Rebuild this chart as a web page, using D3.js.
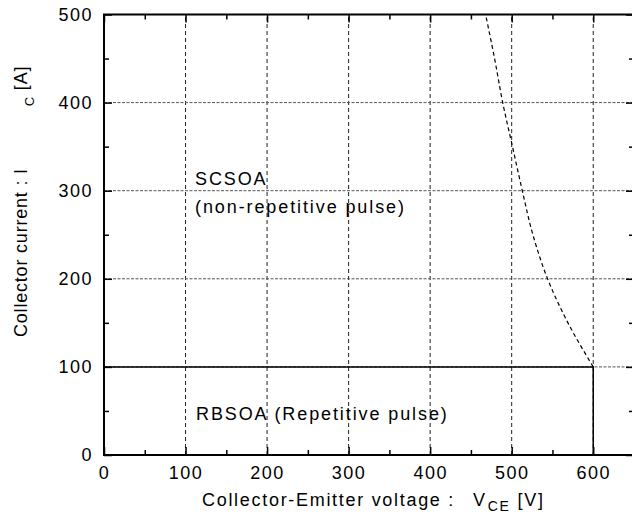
<!DOCTYPE html>
<html>
<head>
<meta charset="utf-8">
<script src="https://cdn.jsdelivr.net/npm/d3@7"></script>
<style>
  body { margin: 0; background: #fff; }
  svg { display: block; font-family: "Liberation Sans", Arial, sans-serif; }
  .tick text { font-size: 18px; letter-spacing: 1.5px; fill: #000; }
  .note { font-size: 18px; letter-spacing: 1.9px; }
  .title { font-size: 18px; letter-spacing: 1.7px; }
</style>
</head>
<body>
<div id="chart"></div>
<script>
// tick values
var xTicks = [0, 100, 200, 300, 400, 500, 600],
    xMinor = [50, 150, 250, 350, 450, 550, 650],
    yTicks = [0, 100, 200, 300, 400, 500],
    yMinor = [50, 150, 250, 350, 450];

// SCSOA boundary (dashed)
var scsoaI = [100, 150, 200, 250, 300, 350, 400, 450, 500],
    scsoaV = [600, 569, 544, 526, 513, 501, 489, 479, 468];

// RBSOA boundary (solid)
var rbsoaV = [0, 600, 600],
    rbsoaI = [100, 100, 0];

var width = 632, height = 523;

var x = d3.scaleLinear().domain([0, 650]).range([104, 634]),
    y = d3.scaleLinear().domain([0, 500]).range([455, 14.5]);

var svg = d3.select('#chart').append('svg')
    .attr('width', width)
    .attr('height', height);

// grid
svg.append('g').selectAll('line')
    .data(xTicks.slice(1))
  .enter().append('line')
    .attr('x1', function(d) { return x(d); })
    .attr('x2', function(d) { return x(d); })
    .attr('y1', y(0))
    .attr('y2', y(500))
    .attr('stroke', '#222')
    .attr('stroke-width', 1)
    .attr('stroke-dasharray', '4,3');

svg.append('g').selectAll('line')
    .data(yTicks.slice(1, -1))
  .enter().append('line')
    .attr('x1', x(0))
    .attr('x2', x(650))
    .attr('y1', function(d) { return y(d); })
    .attr('y2', function(d) { return y(d); })
    .attr('stroke', '#555')
    .attr('stroke-width', 1)
    .attr('stroke-dasharray', '3,1.5');

// RBSOA
var rb = rbsoaV.map(function(d, i) { return [d, rbsoaI[i]]; });
svg.append('path')
    .datum(rb)
    .attr('fill', 'none')
    .attr('stroke', '#000')
    .attr('stroke-width', 1.5)
    .attr('d', d3.line()
      .x(function(d) { return x(d[0]); })
      .y(function(d) { return y(d[1]); }));

// SCSOA
var sc = scsoaV.map(function(d, i) { return [d, scsoaI[i]]; });
svg.append('path')
    .datum(sc)
    .attr('fill', 'none')
    .attr('stroke', '#000')
    .attr('stroke-width', 1.2)
    .attr('stroke-dasharray', '4,3')
    .attr('d', d3.line()
      .curve(d3.curveMonotoneY)
      .x(function(d) { return x(d[0]); })
      .y(function(d) { return y(d[1]); }));

// axes, ticks pointing inward
function axis(gen, vals, size, fmt, tr) {
  var g = svg.append('g')
      .attr('transform', tr)
      .call(gen.tickValues(vals).tickSize(size).tickPadding(size < -6 ? 11 : 0).tickFormat(fmt));
  g.select('.domain').remove();
  g.selectAll('.tick line').attr('stroke', '#000').attr('stroke-width', 1.5);
  return g;
}
var none = function() { return ''; };
axis(d3.axisBottom(x), xTicks, -8, d3.format('d'), 'translate(0,' + y(0) + ')');
axis(d3.axisBottom(x), xMinor, -5, none, 'translate(0,' + y(0) + ')');
axis(d3.axisTop(x), xTicks, -8, none, 'translate(0,' + y(500) + ')');
axis(d3.axisTop(x), xMinor, -5, none, 'translate(0,' + y(500) + ')');
axis(d3.axisLeft(y), yTicks, -8, d3.format('d'), 'translate(' + x(0) + ',0)');
axis(d3.axisLeft(y), yMinor, -5, none, 'translate(' + x(0) + ',0)');
axis(d3.axisRight(y), yTicks, -8, none, 'translate(' + x(650) + ',0)');
axis(d3.axisRight(y), yMinor, -5, none, 'translate(' + x(650) + ',0)');

svg.selectAll('.tick text').attr('font-family', null).attr('font-size', null);

// frame
svg.append('rect')
    .attr('x', x(0))
    .attr('y', y(500))
    .attr('width', x(650) - x(0))
    .attr('height', y(0) - y(500))
    .attr('fill', 'none')
    .attr('stroke', '#000')
    .attr('stroke-width', 2);

// notes
svg.append('text').attr('class', 'note').attr('x', 195).attr('y', 185).text('SCSOA');
svg.append('text').attr('class', 'note').attr('x', 195).attr('y', 213).text('(non-repetitive pulse)');
svg.append('text').attr('class', 'note').attr('x', 196).attr('y', 420).text('RBSOA (Repetitive pulse)');

// axis titles
var xt = svg.append('text').attr('class', 'title').attr('x', 202).attr('y', 506);
xt.append('tspan').text('Collector-Emitter voltage :');
xt.append('tspan').attr('dx', 18).text('V');
xt.append('tspan').attr('font-size', 14).attr('dy', 5).attr('dx', 1).text('CE');
xt.append('tspan').attr('dy', -5).attr('dx', 7).text('[V]');

var yt = svg.append('text').attr('class', 'title')
    .style('letter-spacing', '0.8px')
    .attr('transform', 'translate(27,337) rotate(-90)');
yt.append('tspan').text('Collector current : I');
yt.append('tspan').attr('font-size', 13).attr('dx', 62).attr('dy', 7).text('C');
yt.append('tspan').attr('dy', -7).text(' [A]');
</script>
</body>
</html>
